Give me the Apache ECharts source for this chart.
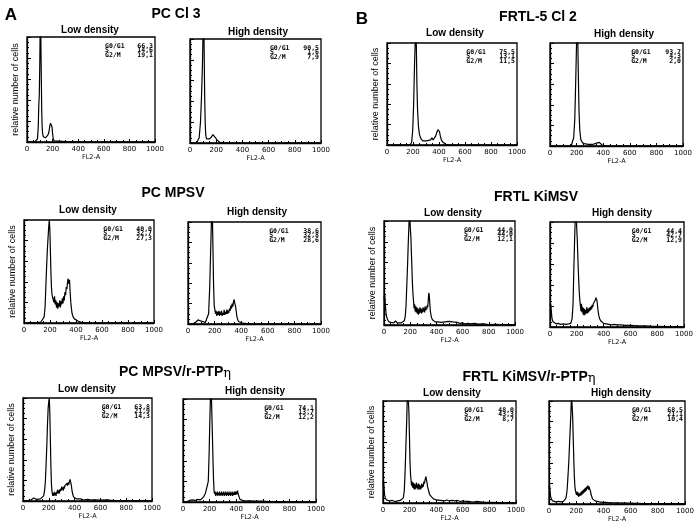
<!DOCTYPE html>
<html><head><meta charset="utf-8">
<script src="https://cdn.jsdelivr.net/npm/echarts@6/dist/echarts.min.js"></script>
<style>html,body{margin:0;padding:0;background:#fff}#c{width:697px;height:528px}</style>
</head><body><div id="c"></div><script>
// ---------- data ----------
const xTicks = [0, 200, 400, 600, 800, 1000];
const phaseLabels = ['G0/G1', 'S', 'G2/M'];
const densityLabels = ['Low density', 'High density'];
const panelLetters = ['A', 'B'];
const cellLines = ['PC Cl 3', 'FRTL-5 Cl 2', 'PC MPSV', 'FRTL KiMSV', 'PC MPSV/r-PTP', 'FRTL KiMSV/r-PTP'];
const yAxisName = 'relative number of cells';
const xAxisName = 'FL2-A';

const hist_PCCl3_low = [[0,0],[60,0],[75,0.5],[82,3],[88,15],[92,35],[96,45],[100,75],[103,110],[106,120],[109,90],[112,60],[115,30],[118,15],[122,8],[128,5],[135,4],[145,4],[155,5],[165,7],[172,10],[178,15],[184,18],[188,19],[192,18],[196,14],[200,8],[205,3],[212,1],[222,0.5],[300,0.3],[500,0],[1000,0]];
const hist_PCCl3_high = [[0,0],[50,0],[60,1],[70,5],[80,20],[88,45],[95,75],[100,110],[104,130],[108,90],[112,45],[116,20],[120,8],[126,4],[135,3],[150,4],[165,6],[175,8],[185,7],[195,5],[205,3],[215,1.5],[230,0.5],[260,0],[1000,0]];
const hist_FRTL5_low = [[0,0],[150,0],[180,0.5],[190,3],[198,15],[205,40],[212,80],[218,105],[222,120],[226,95],[230,60],[235,35],[242,18],[250,10],[262,6],[275,4],[290,3],[305,4],[320,3],[335,5],[345,7],[355,5],[365,6],[375,9],[385,13],[392,15],[398,16],[404,13],[410,9],[418,5],[428,3],[440,1.5],[455,0.5],[480,0],[1000,0]];
const hist_FRTL5_high = [[0,0],[140,0],[160,0.5],[170,2],[178,8],[186,25],[192,55],[198,90],[203,120],[208,110],[213,70],[218,35],[224,15],[232,6],[245,3],[265,2],[290,1.5],[320,1.5],[345,2.5],[360,3.5],[370,3.5],[380,2.5],[392,1],[410,0.3],[440,0],[1000,0]];
const hist_PCMPSV_low = [[0,0],[100,0.3],[130,1],[145,2.5],[155,6],[162,15],[168,35],[174,55],[180,72],[186,85],[191,95],[195,100],[199,90],[203,70],[207,50],[211,35],[215,28],[220,25],[225,24],[230,20],[235,26],[240,18],[245,22],[250,15],[255,20],[260,14],[265,19],[270,16],[275,22],[280,15],[285,21],[290,18],[295,24],[300,19],[305,26],[310,22],[315,30],[320,27],[325,35],[330,33],[335,40],[340,43],[345,38],[350,42],[355,30],[360,20],[365,14],[370,9],[378,6],[388,4],[400,3],[415,2],[430,1],[450,0.3],[500,0],[1000,0]];
const hist_PCMPSV_high = [[0,0],[40,0.3],[60,2],[75,4],[85,4.5],[95,3],[110,1.5],[130,1.5],[145,3],[155,10],[163,35],[170,70],[176,100],[182,115],[187,80],[192,40],[197,18],[202,14],[207,10],[212,13],[217,8],[222,12],[227,9],[232,13],[237,8],[242,12],[247,9],[252,13],[257,8],[262,11],[267,9],[272,14],[277,9],[282,12],[287,10],[292,14],[297,10],[302,13],[307,11],[312,15],[317,13],[322,18],[327,15],[332,20],[337,17],[342,22],[347,24],[352,20],[357,18],[362,13],[367,8],[372,5],[380,2.5],[390,1.5],[410,0.8],[440,0.3],[480,0],[1000,0]];
const hist_KiMSV_low = [[0,25],[5,30],[10,20],[15,12],[20,8],[28,5],[38,3],[48,4],[55,2.5],[65,3],[75,2],[88,4],[100,2],[115,3],[130,2],[145,3],[155,4],[162,8],[168,18],[174,38],[180,58],[185,78],[190,95],[195,115],[200,95],[205,85],[209,70],[213,55],[217,40],[221,30],[226,22],[230,16],[234,20],[238,13],[242,18],[246,12],[250,17],[254,11],[258,16],[262,10],[266,15],[270,11],[274,17],[278,12],[282,16],[286,11],[290,15],[294,12],[298,17],[302,13],[306,16],[310,12],[314,18],[318,14],[322,17],[326,15],[330,19],[334,17],[338,24],[342,31],[346,28],[350,20],[354,13],[358,10],[363,7],[370,5],[380,4],[390,3],[400,2],[410,3],[420,1.5],[435,2.5],[450,1.5],[465,3],[480,2],[495,3.5],[510,2],[525,3],[540,1.5],[560,2.5],[580,1.5],[600,2],[620,1],[640,1.5],[660,1],[690,1.5],[720,0.8],[760,1],[800,0.5],[850,0.7],[900,0.4],[950,0.5],[1000,0.3]];
const hist_KiMSV_high = [[0,20],[5,22],[10,15],[15,8],[22,5],[30,4],[45,3],[60,3.5],[80,2.5],[100,3],[120,2.5],[140,3],[155,3.5],[165,8],[172,22],[178,55],[184,85],[190,110],[195,120],[199,95],[203,85],[207,70],[211,55],[215,42],[219,32],[223,25],[227,20],[231,15],[235,22],[239,14],[243,19],[247,12],[251,18],[255,11],[259,17],[263,12],[267,16],[271,13],[275,19],[279,13],[283,17],[287,14],[291,18],[295,15],[299,19],[303,16],[307,20],[311,17],[315,21],[319,19],[323,22],[327,21],[331,24],[335,23],[339,26],[343,28],[347,29],[351,25],[355,20],[359,15],[364,11],[370,8],[378,6],[388,4.5],[400,3.5],[420,3],[440,2.5],[460,2],[480,2.5],[500,2],[530,2],[560,1.5],[600,1.5],[650,1],[700,1],[750,0.8],[800,0.7],[900,0.5],[1000,0.3]];
const hist_PCPTP_low = [[0,0],[40,0.5],[60,1],[75,2],[83,3],[90,2],[105,1.5],[120,2],[135,2],[150,3],[160,5],[167,10],[173,18],[179,35],[185,55],[190,75],[195,90],[200,97],[204,100],[208,85],[212,60],[216,35],[220,18],[224,10],[228,7],[232,5],[236,8],[240,5],[244,9],[248,6],[252,8],[256,5],[260,9],[264,7],[268,11],[272,8],[276,10],[280,7],[284,11],[288,9],[292,12],[296,10],[300,14],[304,11],[308,13],[312,10],[316,14],[320,12],[325,15],[330,14],[335,16],[340,17],[345,15],[350,18],[355,16],[360,19],[365,21],[370,18],[375,15],[380,10],[385,7],[392,4],[400,3],[415,2],[430,1.5],[450,2],[470,1],[500,1.5],[530,1],[560,1.2],[600,0.8],[650,1],[700,0.5],[750,0.4],[800,0.3],[1000,0.2]];
const hist_PCPTP_high = [[0,0],[30,0.5],[50,1.5],[70,2],[90,1.5],[110,2.5],[130,2],[145,3],[155,5],[163,7],[170,9],[177,8],[183,10],[190,20],[196,45],[201,75],[206,100],[210,120],[214,100],[218,80],[222,60],[226,38],[230,20],[234,10],[238,8],[242,10],[246,6],[250,9],[254,7],[258,10],[262,6],[266,9],[270,7],[274,10],[278,6],[282,9],[286,7],[290,10],[294,6],[298,9],[302,7],[306,10],[310,6],[314,9],[318,7],[322,10],[326,6],[330,9],[334,7],[338,10],[342,6],[346,9],[350,7],[354,10],[358,6],[362,9],[366,7],[370,10],[374,6],[378,9],[382,7],[386,10],[390,7],[394,10],[398,7],[402,10],[406,8],[410,11],[414,8],[418,9],[422,5],[428,2.5],[440,1.5],[460,1],[500,1],[550,0.8],[600,0.8],[650,0.5],[700,0.5],[800,0.3],[1000,0.2]];
const hist_KiPTP_low = [[0,18],[4,22],[8,15],[12,8],[18,5],[25,3],[35,3.5],[50,2],[70,2.5],[90,1.5],[110,2],[130,2.5],[145,3],[153,5],[160,12],[166,30],[172,55],[178,80],[183,105],[187,120],[191,100],[195,88],[199,65],[203,40],[207,28],[211,22],[215,17],[219,21],[223,15],[227,20],[231,14],[235,19],[239,13],[243,18],[247,14],[251,20],[255,15],[259,18],[263,13],[267,19],[271,14],[275,18],[279,13],[283,17],[287,14],[291,19],[295,15],[299,18],[303,16],[307,21],[311,19],[315,22],[319,24],[323,26],[327,22],[331,20],[335,16],[339,14],[343,12],[347,10],[352,8],[358,7],[365,6],[372,5],[380,4],[390,3.5],[400,3],[415,3.5],[430,2.5],[445,3],[460,2],[480,3],[500,2],[520,2.5],[540,2],[560,2.5],[580,1.5],[600,2],[625,1.5],[650,1.5],[675,1],[700,1.5],[750,0.8],[800,0.7],[900,0.5],[1000,0.3]];
const hist_KiPTP_high = [[0,15],[4,18],[8,12],[12,7],[18,5],[25,3],[35,2.5],[50,2],[70,2.5],[90,2],[105,2.5],[115,3],[122,5],[128,8],[134,15],[140,28],[146,42],[151,58],[156,73],[161,88],[166,110],[170,95],[174,85],[178,65],[182,45],[186,28],[190,18],[194,13],[198,11],[202,9],[206,12],[210,8],[214,11],[218,7],[222,10],[226,8],[230,11],[234,8],[238,12],[242,9],[246,13],[250,10],[254,14],[258,11],[262,15],[266,12],[270,16],[274,13],[278,17],[282,15],[286,18],[290,14],[294,17],[298,15],[302,16],[306,12],[310,9],[315,7],[320,5],[328,4],[338,3],[350,2],[370,2],[390,1.5],[420,1.5],[450,1],[500,1],[600,0.8],[700,0.5],[800,0.4],[1000,0.3]];

const stats_PCCl3_low = ['66,3', '14,6', '19,1'];
const stats_PCCl3_high = ['90,5', '1,6', '7,9'];
const stats_FRTL5_low = ['75,5', '13,1', '11,5'];
const stats_FRTL5_high = ['93,7', '4,3', '2,0'];
const stats_PCMPSV_low = ['40,0', '32,7', '27,3'];
const stats_PCMPSV_high = ['38,6', '32,8', '28,6'];
const stats_KiMSV_low = ['44,0', '44,0', '12,1'];
const stats_KiMSV_high = ['44,4', '42,7', '12,9'];
const stats_PCPTP_low = ['63,8', '21,9', '14,3'];
const stats_PCPTP_high = ['74,1', '13,7', '12,2'];
const stats_KiPTP_low = ['48,0', '43,3', '8,7'];
const stats_KiPTP_high = ['68,5', '21,1', '10,4'];

// ---------- layout (pixels) ----------
const panels = [
  {g:{l:27,t:37,w:128,h:105},  sp:[90,30],  d:hist_PCCl3_low,  s:stats_PCCl3_low,  sub:0, yname:true},
  {g:{l:190,t:39,w:131,h:104}, sp:[258,32], d:hist_PCCl3_high, s:stats_PCCl3_high, sub:1, yname:false},
  {g:{l:387,t:43,w:130,h:102}, sp:[455,33], d:hist_FRTL5_low,  s:stats_FRTL5_low,  sub:0, yname:true},
  {g:{l:550,t:43,w:133,h:103}, sp:[624,34], d:hist_FRTL5_high, s:stats_FRTL5_high, sub:1, yname:false},
  {g:{l:24,t:220,w:130,h:103}, sp:[88,210], d:hist_PCMPSV_low,  s:stats_PCMPSV_low,  sub:0, yname:true},
  {g:{l:188,t:222,w:133,h:102},sp:[257,212],d:hist_PCMPSV_high, s:stats_PCMPSV_high, sub:1, yname:false},
  {g:{l:384,t:221,w:131,h:104},sp:[453,213],d:hist_KiMSV_low,  s:stats_KiMSV_low,  sub:0, yname:true},
  {g:{l:550,t:222,w:134,h:105},sp:[622,213],d:hist_KiMSV_high, s:stats_KiMSV_high, sub:1, yname:false},
  {g:{l:23,t:398,w:129,h:103}, sp:[87,389], d:hist_PCPTP_low,  s:stats_PCPTP_low,  sub:0, yname:true},
  {g:{l:183,t:399,w:133,h:103},sp:[255,391],d:hist_PCPTP_high, s:stats_PCPTP_high, sub:1, yname:false},
  {g:{l:383,t:401,w:133,h:102},sp:[452,393],d:hist_KiPTP_low,  s:stats_KiPTP_low,  sub:0, yname:true},
  {g:{l:549,t:401,w:136,h:103},sp:[621,393],d:hist_KiPTP_high, s:stats_KiPTP_high, sub:1, yname:false}
];
const titlePos = [[176,14],[538,17],[173,193],[536,197],[175,372],[529,377]];
const letterPos = [[11,15],[362,19]];

// ---------- build ----------
const grid = [], xAxis = [], yAxis = [], series = [], graphic = [];
const txt = (text, x, y, font, align, extra) => ({type:'text', silent:true, z:10,
  style:Object.assign({text, x, y, font, fill:'#000', align, verticalAlign:'middle', textAlign:align, textVerticalAlign:'middle'}, extra || {})});
panels.forEach((p, i) => {
  const g = p.g;
  grid.push({left:g.l, top:g.t, width:g.w, height:g.h, show:true, borderColor:'#000', borderWidth:1.3, backgroundColor:'transparent'});
  xAxis.push({
    gridIndex:i, type:'value', min:xTicks[0], max:xTicks[xTicks.length-1], interval:xTicks[1]-xTicks[0],
    axisLine:{show:true, onZero:false, lineStyle:{color:'#000', width:1.3}},
    axisTick:{show:true, inside:true, length:3, lineStyle:{color:'#000', width:1}},
    minorTick:{show:true, splitNumber:4, length:2, lineStyle:{color:'#000', width:1}},
    splitLine:{show:false}, minorSplitLine:{show:false},
    axisLabel:{show:true, color:'#000', fontFamily:'DejaVu Sans', fontSize:7, margin:4, formatter:(v) => String(v)},
    name:xAxisName, nameLocation:'middle', nameGap:11,
    nameTextStyle:{color:'#000', fontFamily:'DejaVu Sans', fontSize:6.5}
  });
  yAxis.push({
    gridIndex:i, type:'value', min:0, max:100, interval:20,
    axisLine:{show:true, lineStyle:{color:'#000', width:1.3}},
    axisTick:{show:true, inside:true, length:4, lineStyle:{color:'#000', width:1}},
    minorTick:{show:true, splitNumber:4, length:2, lineStyle:{color:'#000', width:1}},
    splitLine:{show:false}, minorSplitLine:{show:false},
    axisLabel:{show:false},
    name:p.yname ? yAxisName : '', nameLocation:'middle', nameGap:7, nameRotate:90,
    nameTextStyle:{color:'#000', fontFamily:'Liberation Sans', fontSize:9}
  });
  series.push({
    type:'line', xAxisIndex:i, yAxisIndex:i, data:p.d, showSymbol:false, symbol:'none',
    smooth:false, clip:true, lineStyle:{color:'#000', width:1.2}, silent:true, animation:false
  });
  graphic.push(txt(densityLabels[p.sub], p.sp[0], p.sp[1], 'bold 10px "Liberation Sans"', 'center'));
  p.s.forEach((v, k) => {
    const yy = g.t + 9 + k * 4.8;
    graphic.push(txt(phaseLabels[k], g.l + g.w * 0.61, yy, 'bold 6.5px "DejaVu Sans Mono"', 'left'));
    graphic.push(txt(v, g.l + g.w - 2, yy, 'bold 6.5px "DejaVu Sans Mono"', 'right'));
  });
});
cellLines.forEach((t, i) => {
  const eta = i >= 4;
  graphic.push(txt(eta ? '{a|' + t + '}{b|η}' : '{a|' + t + '}', titlePos[i][0], titlePos[i][1], 'bold 14px "Liberation Sans"', 'center',
    {rich:{a:{font:'bold 14px "Liberation Sans"', fill:'#000'}, b:{font:'13px "DejaVu Serif"', fill:'#000', padding:[4,0,0,0]}}}));
});
panelLetters.forEach((t, i) => {
  graphic.push(txt(t, letterPos[i][0], letterPos[i][1], 'bold 17px "Liberation Sans"', 'center'));
});

const chart = echarts.init(document.getElementById('c'), null, {renderer:'canvas'});
chart.setOption({animation:false, backgroundColor:'#fff', grid, xAxis, yAxis, series, graphic});
</script></body></html>
